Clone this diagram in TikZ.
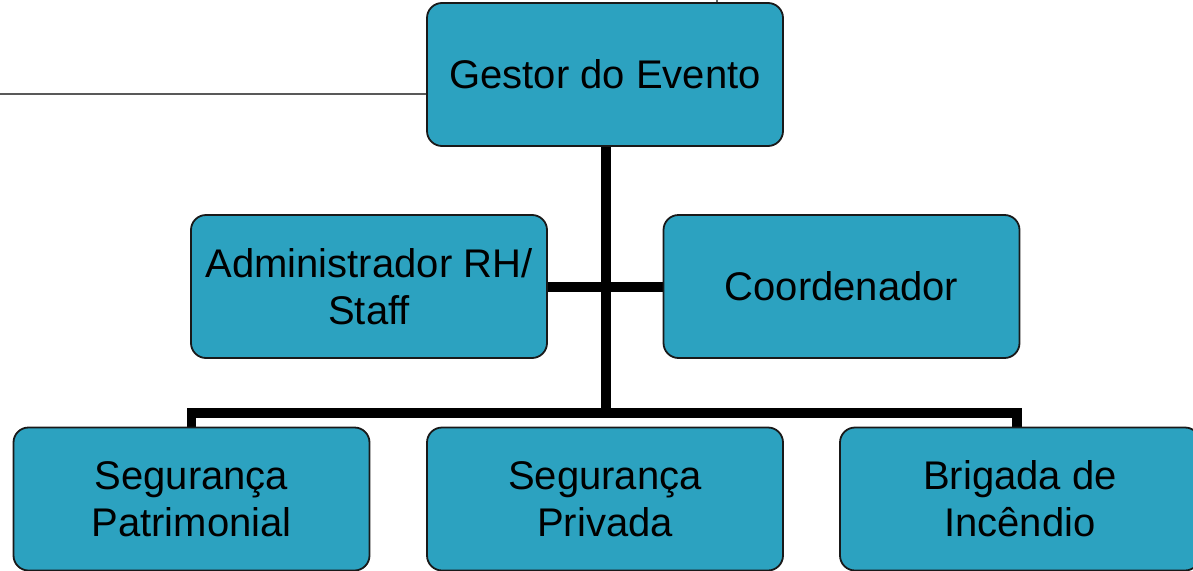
\documentclass[tikz,border=0pt]{standalone}
\usepackage{fontspec}
\setmainfont{Liberation Sans}
\definecolor{boxfill}{RGB}{44,162,192}
\definecolor{boxline}{RGB}{25,25,25}
\begin{document}
\begin{tikzpicture}[x=1pt,y=-1pt,
  orgbox/.style={draw=boxline, line width=1.8pt, fill=boxfill, rounded corners=15pt,
    minimum width=356pt, minimum height=143pt, inner sep=0pt, align=center,
    font=\fontsize{40}{47}\selectfont, text=black},
  conn/.style={line width=9.5pt, black}]
\useasboundingbox (0,0) rectangle (1193,570);
% thin gray line at left
\coordinate (lstart) at (0,94);
\draw[gray!70!black, line width=2.6pt] (lstart) -- (427,94);
\draw[gray!80!black, line width=1.5pt] (717,0) -- (717,3);
% connectors (drawn under boxes)
\coordinate (bus) at (606,413);
\coordinate (busL) at (191.5,413);
\coordinate (busR) at (1017,413);
\draw[conn] (606,140) -- (bus);
\draw[conn] (369,287) -- (841,287);
\draw[conn] (191.5,435) -- (busL) -- (busR) -- (1017,435);
% boxes
\node[orgbox] (gestor) at (605,74.5) {Gestor do Evento};
\node[orgbox] (admin) at (369,286.5) {Administrador RH/\\Staff};
\node[orgbox] (coord) at (841.5,286.5) {Coordenador};
\node[orgbox] (patri) at (191.5,499) {Segurança\\Patrimonial};
\node[orgbox] (priv) at (605,499) {Segurança\\Privada};
\node[orgbox, minimum width=360pt] (brig) at (1020,499) {Brigada de\\Incêndio};
\end{tikzpicture}
\end{document}
